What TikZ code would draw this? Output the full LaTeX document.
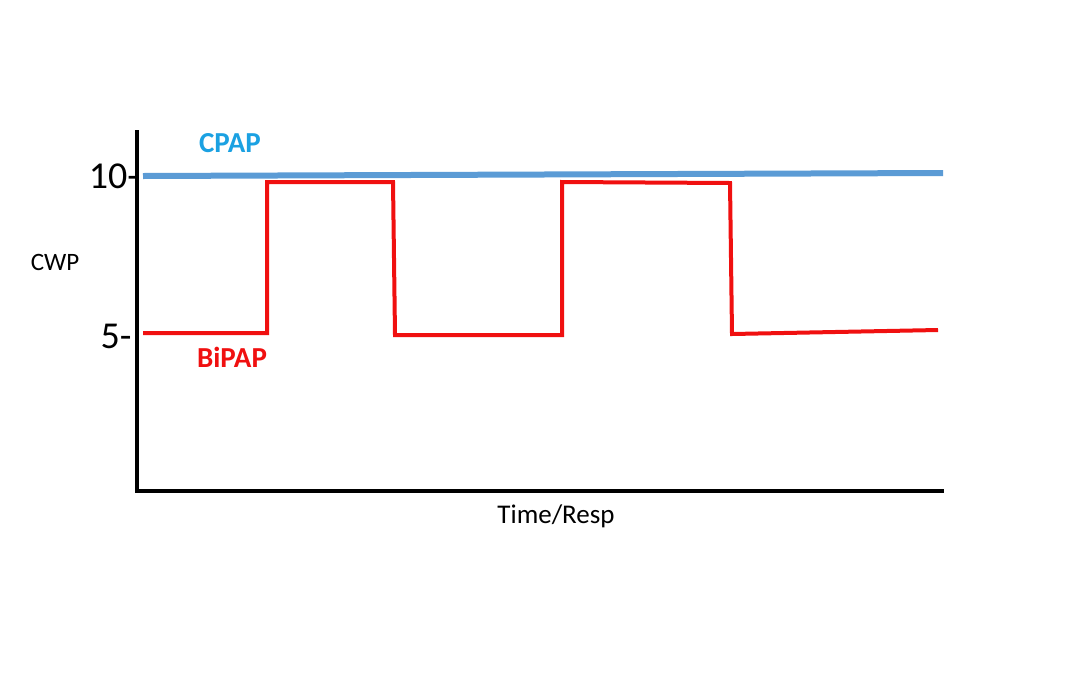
\documentclass[tikz,border=0pt]{standalone}
\usepackage{fontspec}
\setmainfont{Carlito}
\definecolor{cpapline}{HTML}{5B9BD5}
\definecolor{cpaptext}{HTML}{1BA1E2}
\definecolor{bipap}{HTML}{F01010}
\begin{document}
\begin{tikzpicture}[x=1pt,y=-1pt,
  axis/.style={line width=4pt,black},
  lbl/.style={inner sep=0pt,font=\fontsize{27}{29}\selectfont}]
\useasboundingbox (0,0) rectangle (1075,675);
\coordinate (top) at (137,130);
\coordinate (org) at (137,491);
\coordinate (xend) at (944,491);
\draw[axis] (top) -- (org) -- (xend);
\coordinate (c1) at (143,176);
\coordinate (c2) at (943,173);
\draw[cpapline,line width=6pt] (c1) -- (c2);
\draw[bipap,line width=4pt,line join=miter] (143,333) -- (267,333) -- (267,182) -- (393,182) -- (395,335) -- (562,335) -- (562,182) -- (730,183) -- (732,334) -- (938,330);
\node[lbl,text=cpaptext,font=\fontsize{29}{31}\selectfont\bfseries] (cpap) at (230,143) {CPAP};
\node[lbl,text=bipap,font=\fontsize{29}{31}\selectfont\bfseries] (bip) at (232,357) {BiPAP};
\node[lbl,font=\fontsize{38}{40}\selectfont] (ten) at (114,176) {10-};
\node[lbl,font=\fontsize{38}{40}\selectfont] (five) at (116,336) {5-};
\node[lbl,font=\fontsize{25}{27}\selectfont] (cwp) at (55,262) {CWP};
\node[lbl] (time) at (556,516) {Time/Resp};
\end{tikzpicture}
\end{document}
